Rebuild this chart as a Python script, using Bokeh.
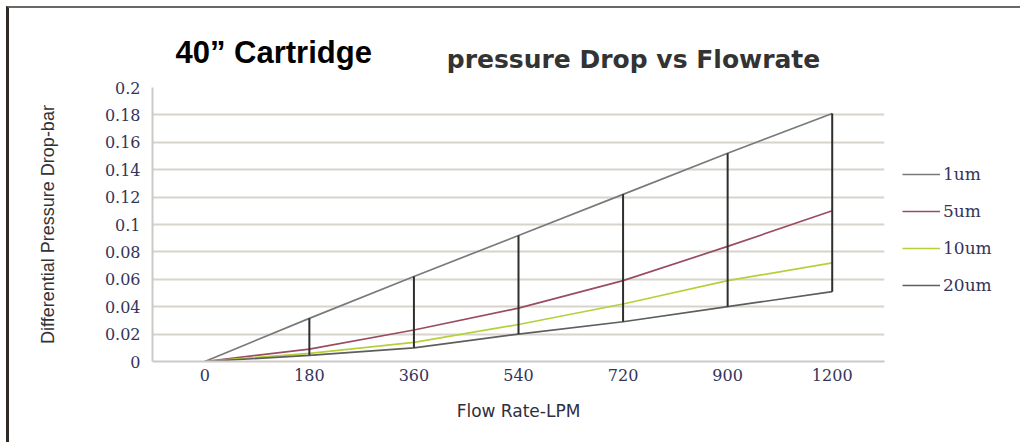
import math
from bokeh.plotting import figure
from bokeh.models import Range1d, FactorRange, FixedTicker, Label, Legend, LegendItem
from bokeh.embed import file_html
from bokeh.resources import INLINE

# ---- data ----
flow_rates = ["0", "180", "360", "540", "720", "900", "1200"]
dp_1um = [0.0, 0.0315, 0.062, 0.092, 0.122, 0.152, 0.181]
dp_5um = [0.0, 0.009, 0.023, 0.039, 0.059, 0.084, 0.110]
dp_10um = [0.0, 0.006, 0.014, 0.027, 0.042, 0.059, 0.072]
dp_20um = [0.0, 0.0045, 0.010, 0.020, 0.029, 0.040, 0.051]
series_names = ["1um", "5um", "10um", "20um"]
y_ticks = [0, 0.02, 0.04, 0.06, 0.08, 0.1, 0.12, 0.14, 0.16, 0.18, 0.2]
y_tick_labels = ["0", "0.02", "0.04", "0.06", "0.08", "0.1", "0.12", "0.14", "0.16", "0.18", "0.2"]
main_title = "40\u201d Cartridge"
sub_title = "pressure Drop vs Flowrate"
x_label = "Flow Rate-LPM"
y_label = "Differential Pressure Drop-bar"

TICK_COLOR = "#34345a"

p = figure(
    x_range=FactorRange(*flow_rates),
    y_range=Range1d(0, 0.2),
    width=1006, height=434,
    frame_width=732, frame_height=274,
    output_backend="svg", toolbar_location=None,
    min_border_left=143, min_border_top=79,
    min_border_right=131, min_border_bottom=81,
)
p.styles = {"border-top": "2px solid #6b6864", "border-left": "3px solid #302a26",
            "margin-left": "6px", "margin-top": "6px"}
p.outline_line_color = None
p.background_fill_color = "white"

# grid
p.xgrid.grid_line_color = None
p.ygrid.ticker = FixedTicker(ticks=y_ticks)
p.ygrid.grid_line_color = "#d8d3cd"
p.ygrid.grid_line_width = 2

# axes
p.yaxis.ticker = FixedTicker(ticks=y_ticks)
p.yaxis.major_label_overrides = dict(zip(y_ticks, y_tick_labels))
for ax in (p.xaxis[0], p.yaxis[0]):
    ax.axis_line_color = "#cdcac6"
    ax.axis_line_width = 2
    ax.major_tick_line_color = None
    ax.minor_tick_line_color = None
    ax.major_tick_out = 0
    ax.major_label_text_font = "DejaVu Serif"
    ax.major_label_text_font_size = "16px"
    ax.major_label_text_color = TICK_COLOR
    ax.axis_label_text_font_style = "normal"
p.yaxis.major_label_standoff = 12
p.xaxis.major_label_standoff = 7

p.yaxis.axis_label = y_label
p.yaxis.axis_label_text_font = "Liberation Sans"
p.yaxis.axis_label_text_font_size = "18px"
p.yaxis.axis_label_text_color = "#333333"
p.yaxis.axis_label_standoff = 44

p.xaxis.axis_label = x_label
p.xaxis.axis_label_text_font = "DejaVu Sans"
p.xaxis.axis_label_text_font_size = "17px"
p.xaxis.axis_label_text_color = "#2e2e3e"
p.xaxis.axis_label_standoff = 17

# series
r5 = p.line(flow_rates, dp_5um, line_color="#9a4d62", line_width=1.7)
r10 = p.line(flow_rates, dp_10um, line_color="#b5d13a", line_width=1.7)
r20 = p.line(flow_rates, dp_20um, line_color="#5e5e5e", line_width=1.7)
r1 = p.line(flow_rates, dp_1um, line_color="#7a7a7a", line_width=1.7)
p.segment(x0=flow_rates, y0=dp_20um, x1=flow_rates, y1=dp_1um,
          line_color="#2e2e2e", line_width=2)

legend_kwargs = dict(
    items=[LegendItem(label=series_names[0], renderers=[r1]),
           LegendItem(label=series_names[1], renderers=[r5]),
           LegendItem(label=series_names[2], renderers=[r10]),
           LegendItem(label=series_names[3], renderers=[r20])],
    location=(18, 66),
    padding=0, margin=0, spacing=17,
    glyph_width=38, glyph_height=20, label_height=20, label_standoff=3,
    label_text_font="DejaVu Serif", label_text_font_size="17px",
    label_text_color=TICK_COLOR,
    border_line_color=None, background_fill_alpha=0,
)
if "ncols" in Legend.properties():
    legend_kwargs["ncols"] = 1
legend = Legend(**legend_kwargs)
p.add_layout(legend, "right")

# titles, placed with the plot's own scales in the panel above the frame
p.add_layout(Label(x=0.22, y=0.2255, text=main_title, text_align="left",
                   text_baseline="alphabetic", text_font="Liberation Sans",
                   text_font_style="bold", text_font_size="31px", text_color="black"),
             "above")
p.add_layout(Label(x=4.6, y=0.2203, text=sub_title, text_align="center",
                   text_baseline="alphabetic", text_font="DejaVu Sans",
                   text_font_style="bold", text_font_size="25px", text_color="#333333"),
             "above")

open("out.html", "w").write(file_html(p, INLINE))
